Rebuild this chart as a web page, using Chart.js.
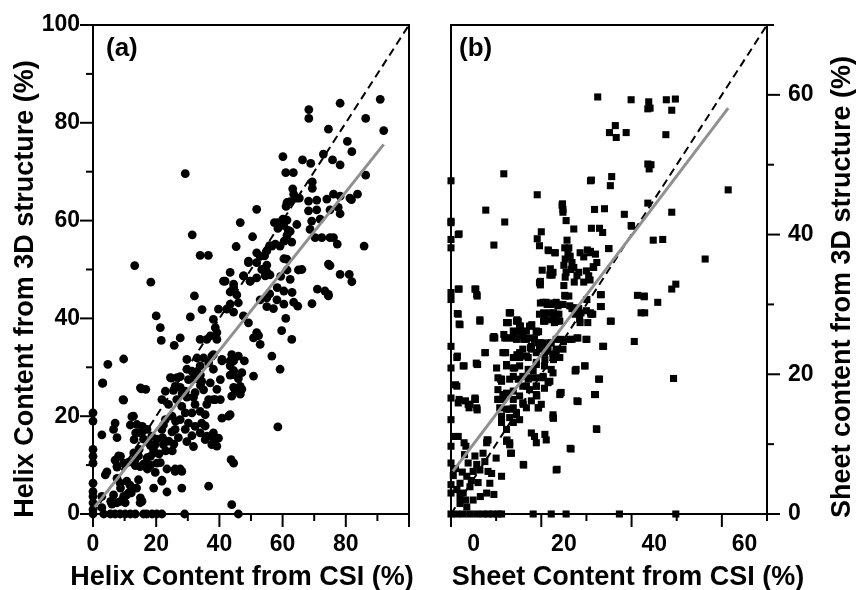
<!DOCTYPE html>
<html>
<head>
<meta charset="utf-8">
<script src="https://cdn.jsdelivr.net/npm/chart.js@4.4.1/dist/chart.umd.min.js"></script>
<style>
  body { margin: 0; background: #fff; }
  #wrap { position: relative; width: 858px; height: 590px; }
  .panel { position: absolute; top: 0; height: 590px; }
</style>
</head>
<body>
<div id="wrap">
  <div class="panel" style="left:0;width:430px"><canvas id="chartA" width="430" height="590"></canvas></div>
  <div class="panel" style="left:430px;width:428px"><canvas id="chartB" width="428" height="590"></canvas></div>
</div>
<script>
// (a) helix content: [CSI %, 3D structure %]
const helixPoints = [
  [29.2,69.6],[13.2,50.8],[18.3,47.4],[31.4,57.1],[33.9,52.9],[36.5,52.9],[32.1,44.6],
  [90.9,84.8],[92,78.4],[86.3,80.9],[78.2,84],[68.3,82.7],[68.3,80.9],[74.5,78.7],[86.3,69.3],[80.5,76.2],[81.9,74.1],[72.9,73.6],[75.8,72.4],[78.2,71.4],[66.3,72.4],[68.9,71.7],[60.1,73.1],[61,69.8],[63.4,69.8],[69.4,67.9],[69.4,66.6],
  [63.5,65.4],[64.5,64.6],[62.4,63.9],[61.4,63.7],[65.3,64.6],[61.1,62.9],[63.2,66.5],
  [76.1,65.4],[78.2,65],[74,64.4],[81.3,64.6],[83.7,65.4],[81.8,64.3],
  [68.2,64],[70.8,64.2],[68.2,62],[70.8,62.2],[77.6,62.7],[75,62.2],[78.2,61.4],
  [51.8,62.3],[46.6,59.6],[57.4,59.6],[58.5,59.6],[60.1,60.3],[58.5,58.4],[60.4,59],[61.4,60.1],
  [62.4,57.8],[61.4,57],[62.9,55.6],[61.8,58],[64.5,59.2],[60.5,55.8],
  [69.2,59.9],[71.9,60.3],[68.7,58.2],[70.3,56.5],[72.4,56.5],[75,56.5],[76.1,56.5],[77.3,55.2],[85.8,54.8],
  [50.5,56.7],[45.3,54.7],[51.8,53.4],[55,53.8],[54.3,52.8],[55.9,54.9],[57.7,55.2],
  [49.2,51.4],[51.8,51.4],[55,50.9],[56,48.9],[55,49.5],[54,49.9],[47.7,48.7],[49.8,47.6],[51.8,48.3],[43.4,49.4],[41.3,47.6],[44.5,46.3],[45.5,44.8],[43.4,45.4],
  [60.4,52.2],[61.4,49.9],[59.4,48.6],[62.4,48],[65,49.9],[60.4,45.6],[63,45.3],[58.3,46.3],
  [74.5,51.1],[75,50.8],[78.2,49],[81.1,49],[81.9,47.5],[73.4,45.6],[74.5,44.6],[55.9,45],[55,44.2],
  [41.8,47.6],[44.5,47],[47.6,48.7],[49.7,47.6],[49.2,51.7],[53.4,50],[54.5,48.7],[52.9,52.7],[56.6,54.8],[59.2,54.8],[61.3,52.1],[66.1,50],
  [20,40.5],[21.3,38.1],[21.6,35.5],[25.7,34.5],[27.6,36],[30.8,40.3],[34.5,41.8],[38.1,39.8],[38.7,38.1],[39.2,37.1],[33.9,35.7],[36,35.7],[39.2,35.7],[37.1,36.4],
  [40.8,31.6],[43.4,31.3],[44.5,31.3],[29.7,31.6],[32.9,31.9],[35,31.9],[38.1,32.6],
  [29.7,29.6],[31.8,28.9],[32.9,29.1],[34,28.4],[38.1,29.6],[32.9,27.7],[34,26.3],
  [24.5,27.9],[26.6,27.9],[27.6,25.9],[25.5,25.3],[28.2,24.6],[29.7,23.9],[31.8,23.9],
  [43.4,28.4],[44.5,29.3],[46.6,26.1],[46,27.7],[45,25.3],
  [38.1,23.4],[40.3,23.4],[36,22.4],[39.2,25.5],[40.3,27.5],[50.8,28.2],
  [52.9,43.8],[55,42.4],[57.1,42],[60.4,42.9],[63.5,43.3],[58.2,43.8],
  [51.8,37.1],[50.8,36],[52.9,34.7],[52.4,36.5],[56.6,32.3],[59.2,29.6],[61,40],[64.8,42.5],[62.9,35.7],[59.7,37.5],[69.3,43],[74.5,44.9],[71,46],
  [42.3,41.9],[44.5,41.3],[43.4,42.9],[46,43.2],[47.6,40.5],[49.2,39.1],[39.7,41.9],
  [4.7,30.6],[9.7,31.7],[3.1,26.8],
  [31.3,29.2],[33.9,30.3],[36.6,30.9],[37.6,32.3],[40.8,31.3],[43.9,32.6],[46,32.3],[47.9,31.3],[43.4,30.3],[44.5,28.5],[47.1,28.9],
  [24.8,27.8],[27.6,28.1],[30.2,27.5],[32.3,27.8],[34.4,27.1],[37.1,26.8],
  [15.3,25.6],[16.7,25.5],[9.7,23.3],
  [22.9,25.1],[26,26.1],[29.2,25.1],[32.3,24.8],[35,25.4],[36.6,23.4],[38.7,23.4],
  [44.5,25.9],[47.1,25.5],[43.9,24.1],[46.6,24.5],
  [21.8,23.4],[23.9,22.4],[26.5,23.4],[28.1,22],[29.2,20.7],[32.3,22.4],[31.3,20.7],[33.9,21],[35.5,20.3],[34.4,18.6],[32.3,17.9],[30.2,18.6],[27.6,19.3],[25,20],[22.9,19.3],[26,17.3],[29.2,17.3],[31.3,16],[33.9,16.6],[35.5,18],
  [40.8,19.6],[42.9,20],[35.5,15.2],[38.1,15.5],[39.7,15.5],[37.6,14.2],[39.2,13.9],
  [38.1,16.6],[36,15.9],[31.8,13.8],[29.7,14.8],[43.4,20.3],
  [58.5,17.8],[43.9,1.9],[46,0],[43.7,11.1],[44.5,10.4],[36.6,5.7],[29,0],[28.1,8.7],[26,8.7],[21.8,6.7],[19.2,5.3],
  [0,20.7],[0,19],[0,13.2],[0,11.8],[0,10.4],[0,6.3],[0,4.6],[0,3.6],[0,2.3],[0,0.9],[0,0],
  [3,26.7],[2.8,16.2],[9.5,23.4],[15,25.8],[12.8,20],[7,18.6],[6.5,17.3],[7.6,15.6],
  [11.8,18.2],[13.5,16.6],[15.6,17.9],[13,15.2],[14.6,13.2],[12.9,12.5],[13.3,11.1],[14.9,9.7],
  [18.2,14],[19.2,13],[18.2,11.8],[20.9,12.3],[17.2,9.2],[19.7,8.5],[18.2,10],[20.2,10.4],
  [22.3,18.2],[25,16.8],[24,14.9],[22,15.6],[26.1,19],[27,15.6],[25.6,14.3],[23,12.9],[25.1,12.9],
  [7,11],[8.7,11.8],[9.7,10.4],[7.6,9.8],
  [10.7,6.7],[11.7,5.9],[8.7,5.3],[6.5,3.9],[13.8,5.3],[7.6,7.3],[5.6,2.6],
  [2.8,3.6],[4.4,8.6],[8.7,2.6],[10.7,3.9],[12.1,4.3],[15,3.3],[15.5,2.6],
  [3.4,0],[5.5,0],[7,0],[8.6,0],[10.2,0],[11.8,0],[13.4,0],[16,0],[17,0],[18.7,0],[20.2,0],[21.8,0],
  [12.3,19.9],[13.9,18.3],[15,16.6],[17.1,17.3],[18.6,15.9],[20.2,15.3],[21.8,17.3],[22.3,14.2],[19.7,14.2],[17.6,14.6],[16,15.3],[19.2,12.5],[17.1,11.5],[14.4,11.9],[13.4,9.9],[16,10.2],[18.1,9.9],[21.3,10.5],[23.4,9.2],[21.8,6.9],[23.4,4.5],[26,9.2],[27.6,9.2],[28.1,5.3],
  [8.1,11.9],[7.6,9.6],[11.3,10.6],[3.9,8],[8.6,6.3],[11.3,4.3],[14.4,7],[12.8,5.3],[9.7,3.6],[7.6,2.3],[6,2],[10.2,2.3],[14.9,2.3],[2.8,1.3]
];

// (b) sheet content: [CSI %, 3D structure %]
const sheetPoints = [
  [32.5,59.7],[39.9,59.3],[43.8,59],[43.6,58],[44.1,58.1],[47.7,59.3],[49.7,59.4],[48.9,57.8],
  [36.4,55.6],[35.1,54.6],[36.6,53.9],[38.8,54.6],[47.6,54.3],
  [43.6,50.1],[44.3,50],[43.9,49.4],[11.7,48.7],[0,47.7],[31.1,47.8],[35.6,48.3],[35.3,47],[61.4,46.4],[19.1,45.7],[7.7,43.5],[11.9,41.8],[0,41.7],[1.6,40],[0,39.3],[0,38.1],[9.5,38.5],
  [24.7,44.4],[24.8,43.6],[24.8,43.2],[31.8,43.6],[34,43.7],[38.4,42.9],[43.6,44.5],[48.9,43.2],[39.9,41.3],[44.8,39.2],[46.9,39.3],[56.3,36.5],
  [20,40.4],[19.1,39.4],[19.6,38.4],[25.5,42],[27.2,40.8],[25.7,39.2],[31.1,40.9],[32.9,40.9],[33.6,40.3],[35,38],[21.5,37.8],[23,37.4],
  [25.2,38.1],[25.9,37.4],[25,35.6],[26.6,35],[25.5,34.6],[27.3,33.2],[25,32.7],
  [28.6,37.4],[30.2,37.8],[30.8,37.4],[31.5,35.4],[30,34.8],[29.4,33.2],[30.8,33.5],
  [20.2,34.9],[21.9,34.2],[19.6,33.1],[22.6,34.6],[19.8,32.8],[26.1,31.2],[28.3,34.6],[27.2,35.3],[26.8,36],
  [0,31.7],[1.6,32.2],[5.3,32.2],[5.7,31.4],
  [25.2,31.3],[33.3,31.4],[41.3,31.3],[42.8,31.2],[48.9,32.2],[49.8,32.9],
  [0,30.7],[0,24],[0,20.9],[0,16.6],[0,13.5],[0,9.7],[0,7.3],[0,4.2],[0,3],
  [1.6,28.6],[2,27.1],[2.7,21.2],[1.3,22.4],[1.3,18.3],[1.6,15.9],[3.8,15.7],[5.3,16.4],[3.3,9.7],[1.6,11.1],[6.4,27.6],[5.9,21.4],
  [1.3,3.5],[2,4.4],[2.7,3],[3.5,5.4],[4.2,3.9],[4.9,6.1],[5.7,7.1],[6.4,6.3],[7.5,7.5],[8.2,6.1],[8.6,4.4],[7.9,3],[11.2,5.4],[4.9,2],[3.2,2],[2,2.5],[3.8,7.3],[5.3,8.3],[7.1,8.7],[7.9,10.2],[8.2,10.6],
  [0.5,5.5],[1,6.5],[2.5,6],[3,8.5],[4.5,4.8],[6,4.5],[2,1.5],[3.5,1],[6.5,2.5],[9,5.8],[10,8],[9.5,2.8],
  [16,7.1],[23.3,6.3],[26.6,9.3],[13,10.2],[13.4,8.7],[12.3,10.4],[17.8,11.6],[18.5,11.1],[20.8,11.4],[21.1,10.6],[22.6,13.8],[32.2,12.2],[49.3,19.4],[32,17.1],[24.4,17.4],[28.1,16.1],[32.9,19.3],[29.7,21.2],[27.6,20.5],[33.6,24],[40.6,24.7],[35.5,27.6],[42.1,28.8],[45.8,30.3],[42.8,31.1],[33.3,29.7],
  [31.4,28.6],[30,29.1],[27.7,29.5],[26.3,29.8],[24.8,30],[23.3,30.3],[21.1,30.3],[19.6,28.6],[22.6,28.3],[23.3,27.6],[20.8,27.6],
  [13,28.8],[12.7,27.4],[14.9,27.6],[15.2,26.9],[17.4,26.9],[18.9,26.2],[16.7,26.2],[14.5,26],[12.3,25.2],[13.8,25.2],[16,25.5],[17.4,25.2],[9.7,25.2],[11.9,23.1],[10.1,20.9],[12.3,21.2],[14.1,20.9],[15.2,22.4],[16.7,22.6],[17.8,24],[19.3,24.5],[20.4,24.3],[21.1,23.3],[22.2,24.5],[23.3,23.3],[22.6,22.4],[20.8,22.1],[18.9,21.7],[18.2,20.5],[17.4,19.5],[20.4,19.5],[21.5,18.8],[18.9,18.3],[16.7,18.3],[14.9,19.3],[13,19.3],[11.2,19.3],[10.4,17.8],[12.3,17.3],[13.8,17.6],[15.2,16.9],[16,15.7],[13.8,15.2],[12.3,15],[11.2,14],[13,13.8],[14.5,14.5],[16.7,15.2],[17.8,16.2],[15.2,13.5],[13.8,13.1],[11.2,13.1],[10.4,16.4],[11.6,16.4],[12.3,12.1],[13,9.9],[18.9,10.2],
  [9.5,25.4],[12.1,23.1],[14.6,22.8],[16.1,25],[17.6,23.8],[19.8,24.5],[21.3,23.6],[22.7,22.1],[24.9,24.7],[26.8,25],[27.9,25.2],[30.1,25],[33.8,24],[27.5,20.5],[32.7,19.3],[27.9,16.2],[24.2,17.3],[22.7,13.7],[19.4,15.2],[19,16.9],[32.3,12.1],[26.4,9.4],[23.5,6.4],[16.1,7],[13.2,8.7],[12.4,10.6],[8,10.6],[2.9,10.2],[1,11.1],[1.8,16.4],[3.2,16.2],[5.4,16.4],[5.8,14.9],[4,15.2],[2.9,21.2],[1.4,22.6],[5.8,21.4],[7.6,23.1],[11,19.3],[10.6,16.4],[1,18.5],
  [1.8,40.1],[0,41.9],[24.6,44.2],[30.9,47.7],[40,41.2],[21.6,37.7],[23.1,37.4],[26.1,38.1],[26.4,36.9],[25.3,36.5],[29.4,36.8],[30.9,37.6],[32,37.2],[32.3,36],[31.6,35.3],[30.5,34.1],[34.9,38],[22,35.1],[22.4,34.2],[19.8,33.3],[25.3,33.9],[27.9,34.1],
  [1.8,32.2],[5.5,32.2],[5.8,31.2],[1.4,28.7],[1.8,27.2],[6.4,27.8],
  [13.2,28.8],[12.4,27.4],[14.6,27.8],[15.4,26.9],[17.9,27.1],[19.4,26.1],[11.7,25.7],[13.9,26.1],
  [19.8,30.2],[21.3,30],[22.7,30.2],[23.9,30],[20.5,28.8],[22.7,28.8],[23.9,28.6],[21.9,27.8],[23,27.6],[20.5,27.6],[25.3,31.2],[26.8,29.4],[27.5,28.6],[28.3,29.4],[28.6,27.4],[30.9,28.8],[33.1,31.4],[33.1,29.7],[35.3,27.6],[30.1,30.7],[42.9,28.8],
  [20.4,30.3],[22.2,30],[23.7,29.8],[21.9,28.8],[23.3,28.6],[24.1,27.6],[20.7,27.9],[22.9,27.4],[27,29.5],[28.8,28.8],[31,28.6],[28.5,27.9],[30.3,27.4],
  [12.9,28.8],[12.3,27.4],[14.5,27.6],[15.2,26.7],[13.8,26.2],[15.9,26],[17.8,26.9],[18.9,26],
  [9.3,25.2],[11.9,25.2],[13.4,25.2],[14.5,25],[16.7,25],[18.5,25],[20.4,24.5],[21.9,24.5],[23.3,25],[24.4,25],[26.3,25],[28.1,25.2],[29.9,25],
  [15.9,23.6],[17.8,23.6],[19.6,23.6],[21.5,23.6],[23.3,23.6],[24.8,23.6],
  [7.5,23.1],[11.5,23.1],[15.2,23.1],[13.8,22.4],[17.1,22.4],[18.9,23.1],[20.7,23.1],[22.6,22.9],[24.1,22.4],
  [5.6,21.6],[12.3,21.4],[13.8,20.9],[15.2,21.2],[17.1,20.7],[18.9,21.4],[20.7,21.2],[22.2,20.7],[27.7,20.7],[29.6,21.2],
  [10.4,19.5],[11.2,19],[13.8,19.7],[15.9,19.7],[17.1,19.3],[18.9,19.5],[20.4,19.7],[21.9,19],[22.6,20.2],[18.9,18.3],[20.7,18],[15.9,18.3],[17.4,17.8],
  [5.3,16.6],[10.4,16.4],[11.5,17.1],[13.8,16.4],[15.9,15.9],[18.9,17.1],[20,15.7],[24.1,17.1],[28.1,16.1],[31.8,17.1],
  [4.2,15.7],[5.7,15.2],[10.8,15.2],[13,15],[14.5,14.2],[19.3,15.2],[22.6,14.2],
  [0,0],[1.3,0],[2.7,0],[4.2,0],[5.7,0],[7.1,0],[8.2,0],[9.3,0],[10.4,0],[11.2,0],[18.2,0],[22.2,0],[25.5,0],[37.3,0],[49.8,0]
];

// fitted lines and y = x diagonals
const helixFit = [[0.5,1.4],[92,75.6]];
const sheetFit = [[0.4,6.1],[61.4,58.1]];
const helixDiag = [[0,0],[100,100]];
const sheetDiag = [[0,0],[70,70]];

// tick labels and tick marks
const helixXLabels = [0,20,40,60,80];
const helixXMajor = [0,20,40,60,80,100];
const helixXMinor = [10,30,50,70,90];
const helixYLabels = [0,20,40,60,80,100];
const helixYMinor = [10,30,50,70,90];
const sheetXLabels = [0,20,40,60];
const sheetXMinor = [10,30,50,70];
const sheetYLabels = [0,20,40,60];
const sheetYMinor = [10,30,50,70];

const FONT = "'Liberation Sans', Arial, sans-serif";
Chart.defaults.color = '#000';
Chart.defaults.font.family = FONT;

const toXY = arr => arr.map(p => ({ x: p[0], y: p[1] }));

// axes box, tick marks, titles
const framePlugin = {
  id: 'frame',
  beforeDatasetsDraw(chart, args, o) {
    const { ctx, chartArea: a, scales: { x, y } } = chart;
    ctx.save();
    ctx.strokeStyle = '#000';
    ctx.lineWidth = 2;
    ctx.strokeRect(a.left, a.top, a.right - a.left, a.bottom - a.top);
    const tick = (x0, y0, x1, y1) => {
      ctx.beginPath(); ctx.moveTo(x0, y0); ctx.lineTo(x1, y1); ctx.stroke();
    };
    o.xMajor.forEach(v => { const p = x.getPixelForValue(v); tick(p, a.bottom, p, a.bottom + 13); });
    o.xMinor.forEach(v => { const p = x.getPixelForValue(v); tick(p, a.bottom, p, a.bottom + 7); });
    const yx = o.ySide < 0 ? a.left : a.right;
    o.yMajor.forEach(v => { const p = y.getPixelForValue(v); tick(yx, p, yx + o.ySide * 13, p); });
    o.yMinor.forEach(v => { const p = y.getPixelForValue(v); tick(yx, p, yx + o.ySide * 7, p); });
    ctx.restore();
  },
  afterDraw(chart, args, o) {
    const ctx = chart.ctx;
    ctx.save();
    ctx.fillStyle = '#000';
    ctx.textBaseline = 'alphabetic';
    ctx.font = 'bold 27px ' + FONT;
    ctx.textAlign = 'center';
    ctx.fillText(o.xTitle, o.xTitleX, o.xTitleY);
    ctx.save();
    ctx.translate(o.yTitleX, o.yTitleY);
    ctx.rotate(-Math.PI / 2);
    ctx.fillText(o.yTitle, 0, 0);
    ctx.restore();
    ctx.font = 'bold 26px ' + FONT;
    ctx.textAlign = 'left';
    ctx.fillText(o.tag, o.tagX, o.tagY);
    ctx.restore();
  }
};

function makePanel(id, cfg) {
  const tickFont = { size: 23, weight: 'bold', family: FONT };
  return new Chart(document.getElementById(id), {
    type: 'scatter',
    data: {
      datasets: [
        { data: toXY(cfg.fit), showLine: true, borderColor: '#909090', borderWidth: 3, pointRadius: 0, clip: false },
        { data: toXY(cfg.diag), showLine: true, borderColor: '#000', borderWidth: 2, borderDash: [8, 5], pointRadius: 0, clip: false },
        { data: toXY(cfg.points), pointStyle: cfg.style, pointRadius: cfg.radius, pointBorderWidth: 0,
          backgroundColor: '#000', borderColor: '#000', clip: false }
      ]
    },
    options: {
      responsive: false,
      animation: false,
      devicePixelRatio: 1,
      layout: { padding: cfg.padding },
      plugins: { legend: { display: false }, tooltip: { enabled: false }, frame: cfg.frame },
      scales: {
        x: {
          type: 'linear', min: 0, max: cfg.xMax,
          afterBuildTicks: s => { s.ticks = cfg.xLabels.map(v => ({ value: v })); },
          afterFit: s => { s.height = 76; },
          ticks: { font: tickFont, padding: 4, autoSkip: false, maxRotation: 0, labelOffset: cfg.xLabelOffset },
          grid: { display: false, drawTicks: true, tickLength: 13 },
          border: { display: false }
        },
        y: {
          type: 'linear', position: cfg.yPos, min: 0, max: cfg.yMax,
          afterBuildTicks: s => { s.ticks = cfg.yLabels.map(v => ({ value: v })); },
          afterFit: s => { s.width = cfg.yWidth; },
          ticks: { font: tickFont, padding: cfg.yPad, autoSkip: false },
          grid: { display: false, drawTicks: true, tickLength: 13 },
          border: { display: false }
        }
      }
    },
    plugins: [framePlugin]
  });
}

makePanel('chartA', {
  points: helixPoints, fit: helixFit, diag: helixDiag,
  style: 'circle', radius: 4.4,
  xMax: 100, yMax: 100, xLabels: helixXLabels, yLabels: helixYLabels,
  xLabelOffset: 0, yPos: 'left', yWidth: 93, yPad: 0,
  padding: { top: 25, right: 21, left: 0, bottom: 0 },
  frame: {
    xMajor: helixXMajor, xMinor: helixXMinor, yMajor: helixYLabels, yMinor: helixYMinor, ySide: -1,
    xTitle: 'Helix Content from CSI (%)', xTitleX: 242, xTitleY: 585,
    yTitle: 'Helix Content from 3D structure (%)', yTitleX: 33, yTitleY: 289,
    tag: '(a)', tagX: 106, tagY: 56
  }
});

makePanel('chartB', {
  points: sheetPoints, fit: sheetFit, diag: sheetDiag,
  style: 'rect', radius: 5,
  xMax: 70, yMax: 70, xLabels: sheetXLabels, yLabels: sheetYLabels,
  xLabelOffset: 22.6, yPos: 'right', yWidth: 91, yPad: 8,
  padding: { top: 25, right: 0, left: 21, bottom: 0 },
  frame: {
    xMajor: sheetXLabels, xMinor: sheetXMinor, yMajor: sheetYLabels, yMinor: sheetYMinor, ySide: 1,
    xTitle: 'Sheet Content from CSI (%)', xTitleX: 198, xTitleY: 585,
    yTitle: 'Sheet content from 3D structure (%)', yTitleX: 420, yTitleY: 287,
    tag: '(b)', tagX: 29, tagY: 56
  }
});
</script>
</body>
</html>
